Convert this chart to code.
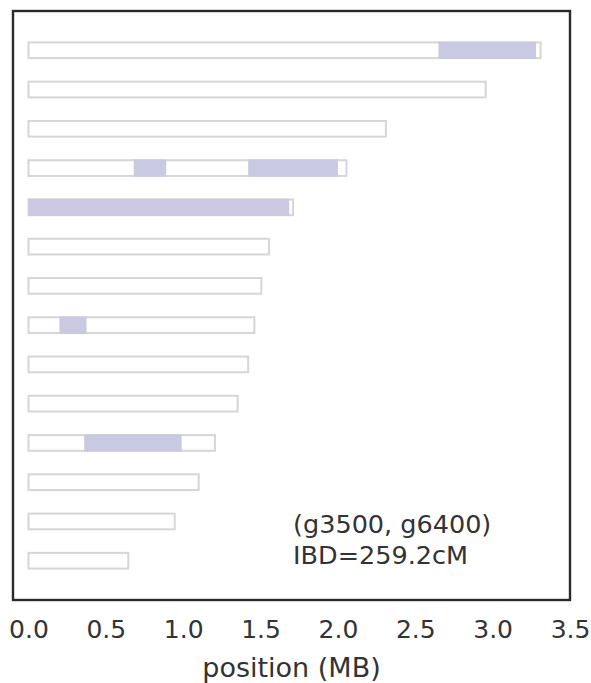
<!DOCTYPE html>
<html>
<head>
<meta charset="utf-8">
<script src="https://cdn.jsdelivr.net/npm/d3@7"></script>
<style>
	body { margin: 0; background: #fff; }
	svg { display: block; }
</style>
</head>
<body>
<div id="chart"></div>
<script>
// chromosome lengths in MB, top row first
const chrom_lengths = [3.31, 2.955, 2.31, 2.055, 1.71, 1.555, 1.505, 1.46, 1.42, 1.352, 1.205, 1.10, 0.945, 0.645];
// IBD segments: row index (0 = top), start and end in MB
const seg_rows = [0, 3, 3, 4, 7, 10];
const seg_start = [2.65, 0.68, 1.42, 0.0, 0.20, 0.36];
const seg_end = [3.28, 0.89, 2.00, 1.685, 0.375, 0.99];
const x_ticks = [0.0, 0.5, 1.0, 1.5, 2.0, 2.5, 3.0, 3.5];
const annot_lines = ["(g3500, g6400)", "IBD=259.2cM"];
const x_label = "position (MB)";

const width = 591,
	height = 683;
const margin = { top: 11, right: 21, bottom: 83, left: 13 };

const svg = d3
	.select("#chart")
	.append("svg")
	.attr("width", width)
	.attr("height", height)
	.style("font-family", "'DejaVu Sans', sans-serif");

const x = d3
	.scaleLinear()
	.domain([-0.1, 3.5])
	.range([margin.left, width - margin.right]);

const y = d3
	.scaleLinear()
	.domain([0, chrom_lengths.length + 1])
	.range([margin.top, height - margin.bottom]);

const bar_h = y(0.4) - y(0);

// chromosome bars
svg
	.selectAll("rect.chrom")
	.data(chrom_lengths)
	.enter()
	.append("rect")
	.attr("class", "chrom")
	.attr("x", x(0))
	.attr("y", (d, i) => y(i + 1) - bar_h / 2)
	.attr("width", (d) => x(d) - x(0))
	.attr("height", bar_h)
	.attr("fill", "#fff")
	.attr("stroke", "#d6d6d6")
	.attr("stroke-width", 2);

// IBD segments
svg
	.selectAll("rect.ibd")
	.data(seg_rows)
	.enter()
	.append("rect")
	.attr("class", "ibd")
	.attr("x", (d, i) => x(seg_start[i]))
	.attr("y", (d) => y(d + 1) - bar_h / 2 - 0.8)
	.attr("width", (d, i) => x(seg_end[i]) - x(seg_start[i]))
	.attr("height", bar_h + 1.6)
	.attr("fill", "#c9c9e2");

// frame
svg
	.append("rect")
	.attr("x", x.range()[0])
	.attr("y", y.range()[0])
	.attr("width", x.range()[1] - x.range()[0])
	.attr("height", y.range()[1] - y.range()[0])
	.attr("fill", "none")
	.attr("stroke", "#2a2a2a")
	.attr("stroke-width", 2.4);

// x axis
const x_axis = svg
	.append("g")
	.attr("transform", "translate(0," + y.range()[1] + ")")
	.call(
		d3
			.axisBottom(x)
			.tickValues(x_ticks)
			.tickSize(0)
			.tickPadding(20)
			.tickFormat(d3.format(".1f"))
	);
x_axis.select(".domain").remove();
x_axis
	.selectAll("text")
	.attr("font-size", 25)
	.attr("font-family", "'DejaVu Sans', sans-serif")
	.attr("fill", "#333");

svg
	.append("text")
	.attr("x", (x.range()[0] + x.range()[1]) / 2)
	.attr("y", 677)
	.attr("text-anchor", "middle")
	.attr("font-size", 27)
	.attr("fill", "#333")
	.text(x_label);

// annotation
svg
	.append("g")
	.selectAll("text")
	.data(annot_lines)
	.enter()
	.append("text")
	.attr("x", x(1.71))
	.attr("y", (d, i) => 533 + i * 31)
	.attr("font-size", 25.5)
	.attr("fill", "#333")
	.text((d) => d);
</script>
</body>
</html>
